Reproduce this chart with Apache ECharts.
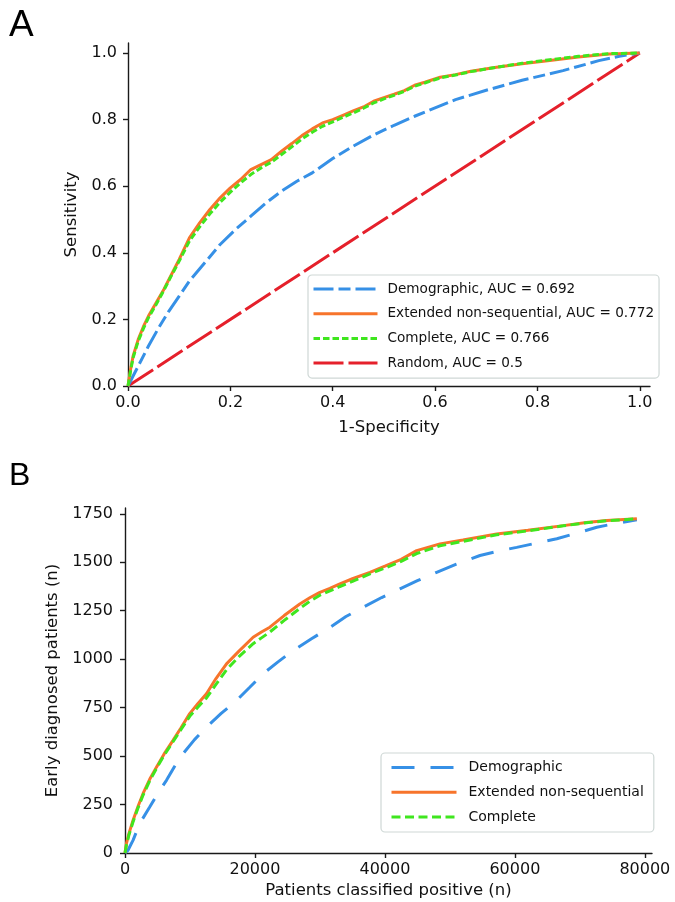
<!DOCTYPE html>
<html>
<head>
<meta charset="utf-8">
<script src="https://cdn.jsdelivr.net/npm/echarts@6/dist/echarts.min.js"></script>
<style>
html,body{margin:0;padding:0;background:#fff;}
#chart{width:675px;height:902px;}
</style>
</head>
<body>
<div id="chart"></div>
<script>
// ---------- Panel A: ROC curves ([1-specificity, sensitivity]) ----------
var rocDemographic = [[0,0],[0.01,0.03],[0.02,0.06],[0.04,0.12],[0.06,0.175],[0.08,0.225],[0.1,0.27],[0.12,0.315],[0.15,0.37],[0.18,0.425],[0.21,0.47],[0.24,0.51],[0.27,0.55],[0.3,0.585],[0.33,0.615],[0.36,0.64],[0.4,0.683],[0.44,0.72],[0.48,0.754],[0.52,0.783],[0.56,0.81],[0.6,0.835],[0.64,0.86],[0.7,0.888],[0.77,0.918],[0.85,0.947],[0.92,0.977],[0.96,0.99],[1,1]];
var rocExtended = [[0,0],[0.005,0.05],[0.01,0.09],[0.02,0.14],[0.03,0.178],[0.04,0.21],[0.055,0.25],[0.07,0.29],[0.085,0.335],[0.1,0.38],[0.12,0.445],[0.14,0.49],[0.16,0.53],[0.18,0.565],[0.2,0.595],[0.22,0.62],[0.24,0.65],[0.26,0.665],[0.28,0.68],[0.3,0.705],[0.32,0.728],[0.34,0.752],[0.36,0.772],[0.38,0.79],[0.4,0.8],[0.42,0.813],[0.44,0.826],[0.46,0.838],[0.48,0.855],[0.5,0.866],[0.52,0.876],[0.54,0.887],[0.56,0.903],[0.58,0.912],[0.61,0.927],[0.64,0.935],[0.67,0.945],[0.72,0.957],[0.77,0.968],[0.82,0.977],[0.88,0.988],[0.94,0.997],[1,1]];
var rocComplete = [[0,0],[0.005,0.045],[0.01,0.085],[0.02,0.135],[0.03,0.172],[0.04,0.205],[0.055,0.245],[0.07,0.287],[0.085,0.332],[0.1,0.375],[0.12,0.435],[0.14,0.478],[0.16,0.517],[0.18,0.552],[0.2,0.582],[0.22,0.61],[0.24,0.635],[0.26,0.655],[0.28,0.672],[0.3,0.695],[0.32,0.718],[0.34,0.742],[0.36,0.762],[0.38,0.78],[0.4,0.793],[0.42,0.807],[0.44,0.82],[0.46,0.834],[0.48,0.85],[0.5,0.862],[0.52,0.873],[0.54,0.885],[0.56,0.9],[0.58,0.91],[0.61,0.925],[0.64,0.934],[0.67,0.944],[0.72,0.957],[0.77,0.969],[0.82,0.979],[0.88,0.99],[0.94,0.998],[1,1]];
var rocRandom = [[0,0],[1,1]];
var rocNames = ['Demographic, AUC = 0.692','Extended non-sequential, AUC = 0.772','Complete, AUC = 0.766','Random, AUC = 0.5'];
var rocTicks = [0,0.2,0.4,0.6,0.8,1.0];

// ---------- Panel B: patients classified positive vs early diagnosed ----------
var earlyDemographic = [[0,0],[460,14],[1230,65],[2260,152],[3800,237],[5000,305],[6380,375],[7600,445],[8930,512],[10700,585],[12540,649],[14800,720],[17160,787],[19200,855],[21260,925],[23500,985],[25880,1045],[28700,1105],[31580,1165],[34000,1220],[36660,1268],[39500,1318],[42310,1363],[45000,1405],[47960,1448],[51000,1490],[54630,1535],[57500,1558],[60280,1577],[63500,1600],[66450,1621],[69500,1650],[72610,1681],[75500,1700],[78770,1719]];
var earlyExtended = [[0,0],[215,48],[600,100],[1230,168],[2000,240],[2770,306],[3800,380],[4840,443],[6000,510],[7390,581],[8600,645],[9960,719],[11200,770],[12540,822],[14000,900],[15620,976],[17500,1040],[19720,1113],[21000,1140],[22290,1165],[24500,1225],[26900,1285],[28500,1318],[29990,1345],[31530,1365],[33070,1389],[35000,1415],[37690,1448],[40000,1480],[42500,1515],[44880,1560],[48470,1595],[52000,1615],[57200,1646],[62000,1665],[67460,1689],[71000,1705],[74150,1715],[78770,1724]];
var earlyComplete = [[0,0],[215,40],[600,92],[1230,160],[2000,232],[2770,298],[3800,372],[4840,436],[6000,503],[7390,574],[8600,636],[9960,705],[11200,752],[12540,800],[14000,870],[15620,945],[17500,1012],[19720,1080],[21000,1110],[22290,1140],[24500,1200],[26900,1262],[28500,1300],[29990,1330],[31530,1352],[33070,1375],[35000,1402],[37690,1440],[40000,1470],[42500,1505],[44880,1545],[48470,1585],[52000,1608],[57200,1642],[62000,1662],[67460,1688],[71000,1704],[74150,1714],[78770,1724]];
var earlyNames = ['Demographic','Extended non-sequential','Complete'];
var earlyXTicks = [0,20000,40000,60000,80000];
var earlyYTicks = [0,250,500,750,1000,1250,1500,1750];

var C_BLUE = '#3690e6', C_ORANGE = '#f7742b', C_GREEN = '#3fe61e', C_RED = '#e5202b';
var FONT = 'DejaVu Sans';
var AX = '#1a1a1a';

function axisCommon(ticks, fmt, margin) {
  return {
    axisLine: {show: true, onZero: false, lineStyle: {color: AX, width: 1.4}},
    axisTick: {show: true, inside: false, length: 5, lineStyle: {color: AX, width: 1.4}, customValues: ticks},
    axisLabel: {show: true, customValues: ticks, formatter: fmt, color: '#111', fontFamily: FONT, fontSize: 16, margin: margin},
    splitLine: {show: false}
  };
}

var chart = echarts.init(document.getElementById('chart'), null, {renderer: 'canvas'});

var nameStyle = {fontFamily: FONT, fontSize: 16.5, color: '#111'};
var xA = Object.assign({type: 'value', gridIndex: 0, min: 0, max: 1.02, name: '1-Specificity', nameLocation: 'middle', nameGap: 33,
  nameTextStyle: nameStyle}, axisCommon(rocTicks, function(v){return v.toFixed(1);}, 9));
var yA = Object.assign({type: 'value', gridIndex: 0, min: 0, max: 1.03, name: 'Sensitivity', nameLocation: 'middle', nameGap: 41,
  nameTextStyle: nameStyle}, axisCommon(rocTicks, function(v){return v.toFixed(1);}, 11));
var xB = Object.assign({type: 'value', gridIndex: 1, min: 0, max: 81100, name: 'Patients classified positive (n)', nameLocation: 'middle', nameGap: 29,
  nameTextStyle: nameStyle}, axisCommon(earlyXTicks, function(v){return String(v);}, 9));
var yB = Object.assign({type: 'value', gridIndex: 1, min: 0, max: 1780, name: 'Early diagnosed patients (n)', nameLocation: 'middle', nameGap: 58,
  nameTextStyle: nameStyle}, axisCommon(earlyYTicks, function(v){return String(v);}, 12));

function lineSeries(name, data, color, dash, xi, yi, width) {
  return {
    type: 'line', name: name, data: data, xAxisIndex: xi, yAxisIndex: yi,
    showSymbol: false, symbol: 'none', smooth: false, animation: false,
    lineStyle: {color: color, width: width || 3, type: dash, cap: 'butt'},
    itemStyle: {color: color},
    emphasis: {disabled: true}, z: 3
  };
}

var legendBase = {
  orient: 'vertical', itemGap: 10.7, itemHeight: 14,
  backgroundColor: 'rgba(255,255,255,0.85)', borderColor: '#cfd8d6', borderWidth: 1.2, borderRadius: 4,
  itemStyle: {color: 'rgba(0,0,0,0)', borderWidth: 0, opacity: 0},
  lineStyle: {width: 3},
  selectedMode: false
};

var option = {
  backgroundColor: '#fff',
  animation: false,
  textStyle: {fontFamily: FONT},
  graphic: [
    {type: 'text', left: 9, top: 7, style: {text: 'A', font: '37px "Liberation Sans"', fill: '#000'}},
    {type: 'text', left: 9, top: 460, style: {text: 'B', font: '32px "Liberation Sans"', fill: '#000'}}
  ],
  grid: [
    {left: 128, top: 43, width: 522, height: 343, containLabel: false},
    {left: 125, top: 508, width: 527, height: 345, containLabel: false}
  ],
  xAxis: [xA, xB],
  yAxis: [yA, yB],
  legend: [
    Object.assign({}, legendBase, {
      id: 'legA', left: 308, top: 275, padding: [7, 5, 8, 4], itemWidth: 64,
      textStyle: {fontFamily: FONT, fontSize: 13.6, color: '#111', padding: [0, 0, 0, 5]},
      data: rocNames.slice()
    }),
    Object.assign({}, legendBase, {
      id: 'legB', left: 381, top: 753, padding: [7.6, 10, 8, 9], itemWidth: 65,
      textStyle: {fontFamily: FONT, fontSize: 14, color: '#111', padding: [0, 0, 0, 7]},
      data: earlyNames.slice()
    })
  ],
  series: [
    lineSeries(rocNames[3], rocRandom, C_RED, [30, 5], 0, 0),
    lineSeries(rocNames[0], rocDemographic, C_BLUE, [20, 5, 12, 5], 0, 0),
    lineSeries(rocNames[1], rocExtended, C_ORANGE, 'solid', 0, 0),
    lineSeries(rocNames[2], rocComplete, C_GREEN, [6.5, 3], 0, 0),
    lineSeries(earlyNames[0], earlyDemographic, C_BLUE, [23, 16], 1, 1),
    lineSeries(earlyNames[1], earlyExtended, C_ORANGE, 'solid', 1, 1),
    lineSeries(earlyNames[2], earlyComplete, C_GREEN, [9, 4.5], 1, 1)
  ]
};
chart.setOption(option);
</script>
</body>
</html>
